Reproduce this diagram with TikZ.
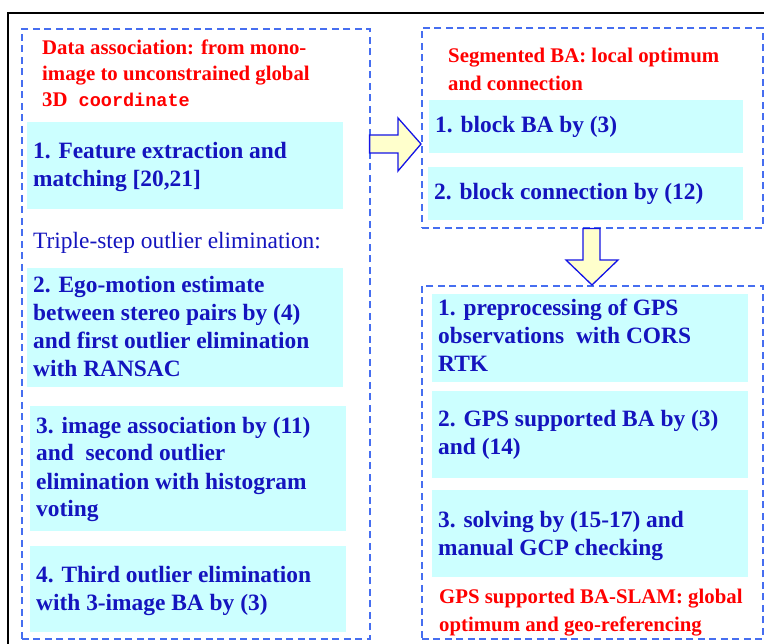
\documentclass[tikz,border=0pt]{standalone}
\usepackage{fontspec}
\setmainfont{Liberation Serif}
\setmonofont{Liberation Mono}
\usetikzlibrary{calc}
\definecolor{txtblue}{RGB}{20,20,190}
\definecolor{dashblue}{RGB}{70,110,240}
\definecolor{boxcyan}{RGB}{204,255,255}
\definecolor{arrowyellow}{RGB}{255,255,204}
\definecolor{arrowblue}{RGB}{20,20,230}
\tikzset{
  dbox/.style={draw=dashblue, line width=1.6pt, dash pattern=on 7pt off 4.5pt, inner sep=0pt, rectangle, anchor=north west},
  cbox/.style={fill=boxcyan, inner sep=0pt, rectangle, anchor=north west},
  btext/.style={text=txtblue, font=\bfseries\fontsize{23.4}{28}\selectfont, align=left, anchor=base west, inner sep=0pt},
  rtext/.style={text=red, font=\bfseries\fontsize{20.8}{28}\selectfont, align=left, anchor=base west, inner sep=0pt},
  ptext/.style={text=txtblue, font=\fontsize{23.4}{28}\selectfont, anchor=base west, inner sep=0pt},
  bigarrow/.style={draw=arrowblue, fill=arrowyellow, line width=1.3pt, line join=miter},
  frame/.style={line width=2pt, black},
}
\begin{document}
\begin{tikzpicture}[x=1pt,y=-1pt]
\useasboundingbox (0,0) rectangle (764,644);
\draw[frame] (8,644) -- (8,13) -- (764,13);
% dashed containers
\node[dbox, minimum width=348pt, minimum height=610pt] (L) at (21,28) {};
\node[dbox, minimum width=341pt, minimum height=200pt] (T) at (421,27) {};
\node[dbox, minimum width=341pt, minimum height=353pt] (B) at (421,285) {};
% cyan boxes
\node[cbox, minimum width=316pt, minimum height=87pt] (c1) at (27,122) {};
\node[cbox, minimum width=316pt, minimum height=119pt] (c2) at (27,268) {};
\node[cbox, minimum width=316pt, minimum height=125pt] (c3) at (30,406) {};
\node[cbox, minimum width=316pt, minimum height=86pt] (c4) at (30,546) {};
\node[cbox, minimum width=314pt, minimum height=53pt] (t1) at (429,100) {};
\node[cbox, minimum width=315pt, minimum height=53pt] (t2) at (428,167) {};
\node[cbox, minimum width=316pt, minimum height=88pt] (b1) at (432,294) {};
\node[cbox, minimum width=316pt, minimum height=87pt] (b2) at (432,391) {};
\node[cbox, minimum width=316pt, minimum height=87pt] (b3) at (432,490) {};
% titles (anchored at the baseline of the last line)
\node[rtext, font=\bfseries\fontsize{20.8}{26}\selectfont] (Ltitle) at (42,107) {Data association: from mono-\\image to unconstrained global\\3D{\ttfamily\fontsize{18.5}{26}\selectfont\ coordinate}};
\node[rtext] (Ttitle) at (448,91) {Segmented BA: local optimum\\and connection};
\node[rtext] (Btitle) at (439,631) {GPS supported BA-SLAM: global\\optimum and geo-referencing};
% texts
\node[btext] (c1t) at (33,187) {1. Feature extraction and\\matching [20,21]};
\node[ptext] (trip) at (33,249) {Triple-step outlier elimination:};
\node[btext] (c2t) at (33,377) {2. Ego-motion estimate\\between stereo pairs by (4)\\and first outlier elimination\\with RANSAC};
\node[btext] (c3t) at (36,517) {3. image association by (11)\\and\ \ second outlier\\elimination with histogram\\voting};
\node[btext] (c4t) at (36,610) {4. Third outlier elimination\\with 3-image BA by (3)};
\node[btext] (t1t) at (435,133) {1. block BA by (3)};
\node[btext] (t2t) at (434,200) {2. block connection by (12)};
\node[btext] (b1t) at (438,372) {1. preprocessing of GPS\\observations\ \ with CORS\\RTK};
\node[btext] (b2t) at (438,455) {2. GPS supported BA by (3)\\and (14)};
\node[btext] (b3t) at (438,555) {3. solving by (15-17) and\\manual GCP checking};
% arrows
\coordinate (ra) at (L.east |- 0,144);
\coordinate (rb) at (T.west |- 0,144);
\draw[bigarrow] ($(ra)+(-1,-9)$) -- ($(rb)+(-23,-9)$) -- ($(rb)+(-23,-26)$) -- (rb)
  -- ($(rb)+(-23,27)$) -- ($(rb)+(-23,9)$) -- ($(ra)+(-1,9)$) -- cycle;
\coordinate (da) at (T.south -| 592,0);
\coordinate (db) at (B.north -| 592,0);
\draw[bigarrow] ($(da)+(-9,0)$) -- ($(da)+(8,0)$) -- ($(db)+(8,-25)$) -- ($(db)+(26,-25)$) -- (db)
  -- ($(db)+(-26,-25)$) -- ($(db)+(-9,-25)$) -- cycle;
\end{tikzpicture}
\end{document}
